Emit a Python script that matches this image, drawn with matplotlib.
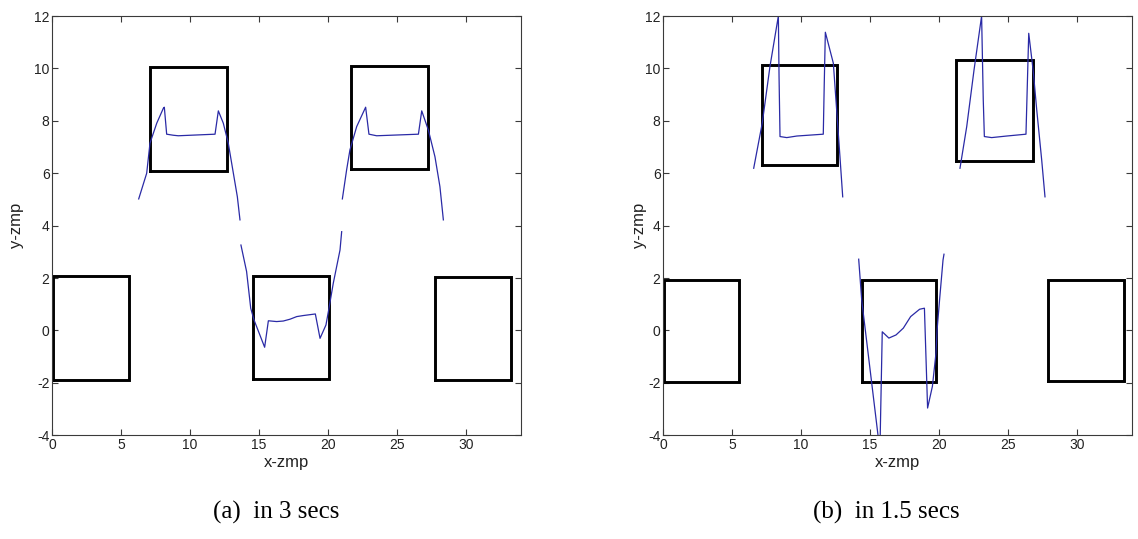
import matplotlib
matplotlib.use("Agg")
import matplotlib.pyplot as plt

# ---------------- data ----------------
x_ticks = [0, 5, 10, 15, 20, 25, 30]
y_ticks = [-4, -2, 0, 2, 4, 6, 8, 10, 12]
captions = ["(a)  in 3 secs", "(b)  in 1.5 secs"]

# footprint rectangles: x_left, x_right, y_bottom, y_top
rect_a_x0 = [0.05, 7.10, 14.55, 21.70, 27.75]
rect_a_x1 = [5.60, 12.70, 20.05, 27.25, 33.30]
rect_a_y0 = [-1.88, 6.10, -1.85, 6.15, -1.88]
rect_a_y1 = [2.06, 10.05, 2.07, 10.08, 2.03]

rect_b_x0 = [0.05, 7.18, 14.39, 21.26, 27.90]
rect_b_x1 = [5.50, 12.60, 19.79, 26.80, 33.40]
rect_b_y0 = [-1.97, 6.32, -1.96, 6.47, -1.93]
rect_b_y1 = [1.91, 10.13, 1.91, 10.31, 1.91]

# ZMP trajectory (a), three segments
a1_x = [6.27, 6.85, 7.09, 7.58, 8.06, 8.13, 8.30, 8.78, 9.14, 11.81, 12.05, 12.41, 12.77, 13.14, 13.43, 13.62]
a1_y = [5.02, 6.00, 7.15, 7.91, 8.48, 8.52, 7.49, 7.45, 7.43, 7.49, 8.38, 7.91, 7.15, 6.00, 5.10, 4.22]
a2_x = [13.69, 14.10, 14.40, 14.64, 15.41, 15.68, 16.28, 16.76, 17.25, 17.74, 18.22, 19.09, 19.43, 19.86, 20.08, 20.39, 20.88, 21.00]
a2_y = [3.26, 2.25, 0.85, 0.40, -0.64, 0.37, 0.34, 0.36, 0.43, 0.53, 0.57, 0.63, -0.30, 0.21, 0.85, 1.80, 3.07, 3.77]
a3_x = [21.05, 21.36, 21.60, 22.09, 22.74, 22.98, 23.54, 26.57, 26.81, 27.29, 27.77, 28.13, 28.38]
a3_y = [5.02, 6.13, 6.89, 7.78, 8.52, 7.49, 7.43, 7.49, 8.38, 7.65, 6.63, 5.49, 4.22]

# ZMP trajectory (b), three segments
b1_x = [6.56, 7.18, 7.74, 8.35, 8.40, 8.47, 8.96, 9.69, 11.61, 11.68, 11.76, 12.34, 12.58, 12.82, 13.02]
b1_y = [6.19, 7.91, 10.07, 12.00, 9.69, 7.40, 7.36, 7.42, 7.49, 9.40, 11.38, 10.20, 8.42, 6.63, 5.10]
b2_x = [14.18, 14.40, 15.72, 15.89, 16.37, 16.89, 17.42, 17.95, 18.60, 18.95, 19.18, 19.53, 19.79, 19.87, 20.05, 20.30, 20.37]
b2_y = [2.72, 1.15, -4.60, -0.05, -0.29, -0.17, 0.09, 0.53, 0.81, 0.85, -2.96, -2.13, -0.86, 0.03, 1.17, 2.69, 2.91]
b3_x = [21.53, 22.02, 22.55, 23.10, 23.22, 23.30, 23.83, 24.92, 26.32, 26.52, 26.85, 27.10, 27.46, 27.70]
b3_y = [6.19, 7.78, 9.94, 12.00, 8.80, 7.40, 7.36, 7.42, 7.49, 11.34, 9.88, 8.42, 6.51, 5.10]

# ---------------- drawing ----------------
LINE_C = "#2a2aa6"
SPINE_C = "#3a3a3a"

plt.rcParams["font.family"] = ["Liberation Sans", "DejaVu Sans"]
plt.rcParams["axes.unicode_minus"] = False

fig = plt.figure(figsize=(11.38, 5.39), dpi=100)
W, H = 1138.0, 539.0
ax_l = 52.3 / W
ax_r = 663.3 / W
ax_w = 468.5 / W
ax_b = (H - 435.3) / H
ax_h = 419.3 / H

axes = [fig.add_axes([ax_l, ax_b, ax_w, ax_h]),
        fig.add_axes([ax_r, ax_b, ax_w, ax_h])]

rects = [(rect_a_x0, rect_a_x1, rect_a_y0, rect_a_y1),
         (rect_b_x0, rect_b_x1, rect_b_y0, rect_b_y1)]
segs = [[(a1_x, a1_y), (a2_x, a2_y), (a3_x, a3_y)],
        [(b1_x, b1_y), (b2_x, b2_y), (b3_x, b3_y)]]
ylab_x = [-0.060, -0.035]

for i, ax in enumerate(axes):
    x0s, x1s, y0s, y1s = rects[i]
    for x0, x1, y0, y1 in zip(x0s, x1s, y0s, y1s):
        ax.plot([x0, x1, x1, x0, x0], [y0, y0, y1, y1, y0],
                color="black", lw=2.1, solid_joinstyle="miter")
    for sx, sy in segs[i]:
        ax.plot(sx, sy, color=LINE_C, lw=0.9)
    ax.set_xlim(0, 34)
    ax.set_ylim(-4, 12)
    ax.set_xticks(x_ticks)
    ax.set_yticks(y_ticks)
    ax.tick_params(direction="in", length=4, width=0.8, color=SPINE_C,
                   top=True, right=True, labelsize=10, pad=2,
                   labelcolor="#222222")
    for s in ax.spines.values():
        s.set_color(SPINE_C)
        s.set_linewidth(0.8)
    ax.set_xlabel("x-zmp", fontsize=12, labelpad=2, color="#222222")
    ax.set_ylabel("y-zmp", fontsize=12, color="#222222")
    ax.yaxis.set_label_coords(ylab_x[i], 0.5)

fig.text(276 / W, 1 - 512 / H, captions[0], ha="center", va="center",
         fontsize=18, family=["Liberation Serif", "DejaVu Serif"])
fig.text(886 / W, 1 - 512 / H, captions[1], ha="center", va="center",
         fontsize=18, family=["Liberation Serif", "DejaVu Serif"])

fig.savefig("out.png", dpi=100)
